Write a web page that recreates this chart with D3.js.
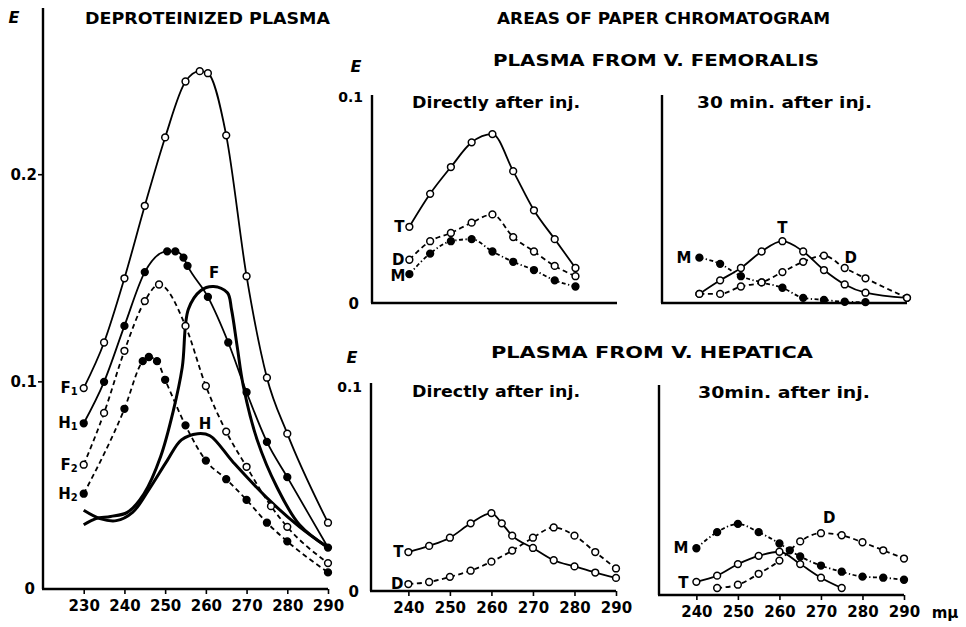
<!DOCTYPE html>
<html lang="en">

<head>
    <meta charset="UTF-8">
    <title>Deproteinized plasma and chromatogram areas</title>
    <script src="https://d3js.org/d3.v7.min.js"></script>
    <style>
        body {
            margin: 0;
            background: white;
        }

        text {
            font-family: "DejaVu Sans", sans-serif;
            font-weight: bold;
            fill: black;
        }
    </style>
</head>

<body>
    <svg id="chart"></svg>

    <script>
        const width = 966;
        const height = 627;

        // ---- deproteinized plasma (left panel) ----
        const f1Wave = [230, 235, 240, 245, 250, 255, 258.5, 260.5, 265, 270, 275, 280, 290];
        const f1E = [0.097, 0.119, 0.150, 0.185, 0.218, 0.245, 0.250, 0.249, 0.219, 0.151, 0.102, 0.075, 0.032];

        const h1Wave = [230, 235, 240, 245, 250.5, 252.5, 254.5, 255.5, 260.5, 265.5, 270, 275, 280, 290];
        const h1E = [0.080, 0.100, 0.127, 0.153, 0.163, 0.163, 0.160, 0.156, 0.141, 0.119, 0.095, 0.071, 0.054, 0.020];

        const f2Wave = [230, 235, 240, 245, 248.5, 255, 260, 265, 270, 276, 280, 290];
        const f2E = [0.060, 0.085, 0.115, 0.139, 0.147, 0.127, 0.098, 0.076, 0.059, 0.040, 0.030, 0.0125];

        const h2Wave = [230, 240, 244.5, 246, 248, 250, 255, 260, 265, 270, 275, 280, 290];
        const h2E = [0.046, 0.087, 0.110, 0.112, 0.110, 0.101, 0.079, 0.062, 0.053, 0.043, 0.032, 0.023, 0.008];

        // smooth curves without points
        const fCurveWave = [230, 233, 236.6, 240.7, 244.8, 248.9, 252, 254.2, 255.7, 258.7, 261.9, 265.3, 266.3, 267.7, 269.2, 272.6, 277.5, 283, 290];
        const fCurveE = [0.031, 0.034, 0.035, 0.037, 0.046, 0.064, 0.086, 0.107, 0.135, 0.144, 0.146, 0.143, 0.135, 0.117, 0.098, 0.072, 0.049, 0.031, 0.020];

        const hCurveWave = [230, 234, 238, 242, 246, 250.5, 254, 258, 261, 266.8, 275, 283, 290];
        const hCurveE = [0.038, 0.034, 0.033, 0.037, 0.048, 0.062, 0.072, 0.075, 0.074, 0.061, 0.044, 0.030, 0.020];

        const leftXTicks = [230, 240, 250, 260, 270, 280, 290];
        const leftYTicks = [0, 0.1, 0.2];
        const leftYTickLabels = ["0", "0.1", "0.2"];

        // ---- v. femoralis ----
        const femDirWave = [240, 245, 250, 255, 260, 265, 270, 275, 280];
        const femDirT = [0.037, 0.053, 0.066, 0.078, 0.082, 0.064, 0.045, 0.031, 0.017];
        const femDirD = [0.021, 0.030, 0.034, 0.039, 0.043, 0.032, 0.025, 0.018, 0.013];
        const femDirM = [0.014, 0.024, 0.030, 0.031, 0.025, 0.020, 0.016, 0.011, 0.008];

        const fem30Wave = [240, 245, 250, 255, 260, 265, 270, 275, 280, 290];
        const fem30T = [0.0044, 0.011, 0.017, 0.025, 0.030, 0.025, 0.016, 0.009, 0.005, 0.0025];
        const fem30D = [0.0044, 0.0044, 0.008, 0.010, 0.015, 0.020, 0.023, 0.017, 0.012, 0.0025];
        const fem30MWave = [240, 245, 250, 255, 260, 265, 270, 275, 280];
        const fem30M = [0.022, 0.019, 0.013, 0.010, 0.0074, 0.0025, 0.0015, 0.0006, 0.0004];

        // ---- v. hepatica ----
        const hepDirTWave = [240, 245, 250, 255, 260, 262.5, 265, 270, 275, 280, 285, 290];
        const hepDirT = [0.019, 0.022, 0.026, 0.033, 0.038, 0.033, 0.027, 0.021, 0.015, 0.012, 0.009, 0.0064];
        const hepDirDWave = [240, 245, 250, 255, 260, 265, 270, 275, 280, 285, 290];
        const hepDirD = [0.0034, 0.0044, 0.0069, 0.0099, 0.0143, 0.0197, 0.026, 0.031, 0.027, 0.019, 0.011];

        const hep30TWave = [240, 245, 250, 255, 260, 265, 270, 275];
        const hep30T = [0.0064, 0.0094, 0.015, 0.019, 0.021, 0.015, 0.0084, 0.0034];
        const hep30DWave = [245, 250, 255, 260, 265, 270, 275, 280, 285, 290];
        const hep30D = [0.0034, 0.005, 0.0103, 0.0167, 0.026, 0.030, 0.029, 0.0256, 0.0217, 0.0177];
        const hep30MWave = [240, 245, 250, 255, 260, 262.5, 265, 270, 275, 280, 285, 290];
        const hep30M = [0.0227, 0.0305, 0.0345, 0.0305, 0.025, 0.0217, 0.0187, 0.0143, 0.0113, 0.0089, 0.0084, 0.0074];

        const smallXTicks = [240, 250, 260, 270, 280, 290];

        const svg = d3.select("#chart").attr("width", width).attr("height", height);

        const dashed = "5,3.5";
        const dashDot = "4,2.5,1.3,2.5";

        function text(x, y, str, size, anchor, len) {
            const t = svg.append("text")
                .attr("x", x)
                .attr("y", y)
                .attr("font-size", size)
                .attr("text-anchor", anchor || "start")
                .text(str);
            if (len) t.attr("textLength", len).attr("lengthAdjust", "spacingAndGlyphs");
            return t;
        }

        // label with a lowered small digit, e.g. F1
        function subLabel(x, y, main, sub) {
            const t = svg.append("text")
                .attr("x", x)
                .attr("y", y)
                .attr("font-size", 15)
                .attr("text-anchor", "end");
            t.append("tspan").text(main);
            t.append("tspan").attr("font-size", 10).attr("dy", 2).text(sub);
        }

        function series(x, y, waves, vals, opts) {
            const pts = waves.map((w, i) => [x(w), y(vals[i])]);
            svg.append("path")
                .datum(pts)
                .attr("d", d3.line().curve(opts.curve || d3.curveMonotoneX))
                .attr("fill", "none")
                .attr("stroke", "black")
                .attr("stroke-width", opts.width || 1.8)
                .attr("stroke-dasharray", opts.dash || null);
            if (opts.marker) {
                svg.append("g").selectAll("circle")
                    .data(pts)
                    .join("circle")
                    .attr("cx", d => d[0])
                    .attr("cy", d => d[1])
                    .attr("r", 3.4)
                    .attr("fill", opts.marker === "open" ? "white" : "black")
                    .attr("stroke", "black")
                    .attr("stroke-width", 1.5);
            }
            return pts;
        }

        function axes(x, y, yTop, xTicks) {
            const [x0, x1] = x.range();
            const y0 = y(0);
            svg.append("line")
                .attr("x1", x0).attr("x2", x0)
                .attr("y1", yTop).attr("y2", y0)
                .attr("stroke", "black").attr("stroke-width", 2.4);
            svg.append("line")
                .attr("x1", x0 - 1).attr("x2", x1)
                .attr("y1", y0).attr("y2", y0)
                .attr("stroke", "black").attr("stroke-width", 2.4);
            if (xTicks) {
                const ax = svg.append("g")
                    .attr("transform", `translate(0,${y0})`)
                    .call(d3.axisBottom(x).tickValues(xTicks).tickSize(5).tickPadding(6));
                ax.select(".domain").remove();
                ax.selectAll(".tick line").attr("stroke-width", 1.6);
                ax.selectAll("text")
                    .attr("font-size", 15)
                    .attr("font-family", "DejaVu Sans, sans-serif")
                    .attr("font-weight", "bold");
            }
        }

        // ---------------- left panel ----------------
        const xL = d3.scaleLinear().domain([220, 290]).range([43, 328]);
        const yL = d3.scaleLinear().domain([0, 0.28]).range([589, 9]);

        axes(xL, yL, 8, leftXTicks);
        leftYTicks.forEach((v, i) => {
            if (v > 0) {
                svg.append("line")
                    .attr("x1", xL(220) - 5).attr("x2", xL(220))
                    .attr("y1", yL(v)).attr("y2", yL(v))
                    .attr("stroke", "black").attr("stroke-width", 1.6);
            }
            text(v > 0 ? 37 : 35, yL(v) + 5, leftYTickLabels[i], 15, "end");
        });

        text(14, 23, "E", 16, "middle").attr("font-style", "italic");
        text(85, 24, "DEPROTEINIZED PLASMA", 16, "start", 245);

        series(xL, yL, fCurveWave, fCurveE, { width: 3, curve: d3.curveCatmullRom });
        series(xL, yL, hCurveWave, hCurveE, { width: 3, curve: d3.curveCatmullRom });
        series(xL, yL, f1Wave, f1E, { marker: "open" });
        series(xL, yL, h1Wave, h1E, { marker: "filled" });
        series(xL, yL, f2Wave, f2E, { marker: "open", dash: dashed });
        series(xL, yL, h2Wave, h2E, { marker: "filled", dash: dashed });

        subLabel(xL(230) - 6, yL(f1E[0]) + 5, "F", "1");
        subLabel(xL(230) - 6, yL(h1E[0]) + 5, "H", "1");
        subLabel(xL(230) - 6, yL(f2E[0]) + 5, "F", "2");
        subLabel(xL(230) - 6, yL(h2E[0]) + 5, "H", "2");
        text(xL(262), yL(d3.max(fCurveE)) - 9, "F", 15, "middle");
        text(205, 429, "H", 15, "middle");

        // ---------------- headers ----------------
        text(497, 24, "AREAS OF PAPER CHROMATOGRAM", 16, "start", 333);
        text(493, 66, "PLASMA FROM V. FEMORALIS", 16, "start", 326);
        text(491, 358, "PLASMA FROM V. HEPATICA", 16, "start", 322);

        // ---------------- femoralis, directly after ----------------
        const xA = d3.scaleLinear().domain([231, 290]).range([372, 617]);
        const yA = d3.scaleLinear().domain([0, 0.1]).range([303, 97]);
        axes(xA, yA, 95, null);
        text(356, 72, "E", 16, "middle").attr("font-style", "italic");
        text(363, 102, "0.1", 14, "end");
        text(359, 309, "0", 15, "end");
        text(412, 108, "Directly after inj.", 15, "start", 168);

        series(xA, yA, femDirWave, femDirT, { marker: "open" });
        series(xA, yA, femDirWave, femDirD, { marker: "open", dash: dashed });
        series(xA, yA, femDirWave, femDirM, { marker: "filled", dash: dashDot });
        text(xA(240) - 5, yA(femDirT[0]) + 5, "T", 15, "end");
        text(xA(240) - 5, yA(femDirD[0]) + 5, "D", 15, "end");
        text(xA(240) - 4, yA(femDirM[0]) + 7, "M", 15, "end");

        // ---------------- femoralis, 30 min ----------------
        const xB = d3.scaleLinear().domain([231, 290]).range([662, 907]);
        const yB = d3.scaleLinear().domain([0, 0.1]).range([303, 97]);
        axes(xB, yB, 95, null);
        text(697, 108, "30 min. after inj.", 15, "start", 175);

        series(xB, yB, fem30MWave, fem30M, { marker: "filled", dash: dashDot });
        series(xB, yB, fem30Wave, fem30D, { marker: "open", dash: dashed });
        series(xB, yB, fem30Wave, fem30T, { marker: "open" });
        text(xB(240) - 8, yB(fem30M[0]) + 5, "M", 15, "end");
        text(xB(260), yB(d3.max(fem30T)) - 8, "T", 15, "middle");
        text(xB(275) + 6, yB(fem30D[6]) + 7, "D", 15, "middle");

        // ---------------- hepatica, directly after ----------------
        const xC = d3.scaleLinear().domain([231, 290]).range([371, 616]);
        const yC = d3.scaleLinear().domain([0, 0.1]).range([591, 386]);
        axes(xC, yC, 383, smallXTicks);
        text(352, 363, "E", 16, "middle").attr("font-style", "italic");
        text(362, 392, "0.1", 14, "end");
        text(359, 597, "0", 15, "end");
        text(412, 397, "Directly after inj.", 15, "start", 168);

        series(xC, yC, hepDirTWave, hepDirT, { marker: "open" });
        series(xC, yC, hepDirDWave, hepDirD, { marker: "open", dash: dashed });
        text(xC(240) - 5, yC(hepDirT[0]) + 5, "T", 15, "end");
        text(xC(240) - 5, yC(hepDirD[0]) + 5, "D", 15, "end");

        // ---------------- hepatica, 30 min ----------------
        const xD = d3.scaleLinear().domain([231, 290]).range([659, 904]);
        const yD = d3.scaleLinear().domain([0, 0.1]).range([595, 389]);
        axes(xD, yD, 385, smallXTicks);
        text(698, 398, "30min. after inj.", 15, "start", 172);
        text(945, 618, "mμ", 15, "middle");

        series(xD, yD, hep30MWave, hep30M, { marker: "filled", dash: dashDot });
        series(xD, yD, hep30DWave, hep30D, { marker: "open", dash: dashed });
        series(xD, yD, hep30TWave, hep30T, { marker: "open" });
        text(xD(240) - 8, yD(hep30M[0]) + 5, "M", 15, "end");
        text(xD(240) - 8, yD(hep30T[0]) + 6, "T", 15, "end");
        text(xD(272), yD(d3.max(hep30D)) - 10, "D", 15, "middle");
    </script>
</body>

</html>
